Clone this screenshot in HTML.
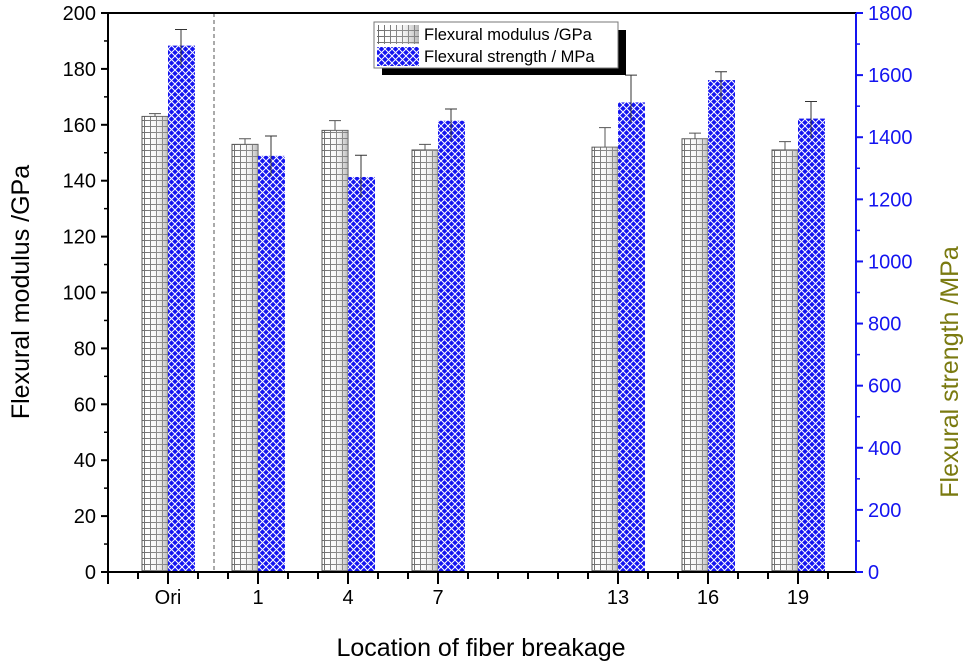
<!DOCTYPE html>
<html><head><meta charset="utf-8"><style>
html,body{margin:0;padding:0;background:#fff}
svg{display:block;font-family:"Liberation Sans",Arial,sans-serif}
</style></head><body>
<svg id="chart" width="975" height="666" viewBox="0 0 975 666">
<defs>
<pattern id="grid" width="6" height="6" patternUnits="userSpaceOnUse">
<rect width="6" height="6" fill="#fff"/>
<path d="M0 0.5H6M0.5 0V6" stroke="#6a6a6a" stroke-width="1"/>
</pattern>
<linearGradient id="shade" x1="0" x2="1" y1="0" y2="0">
<stop offset="0" stop-color="#fff" stop-opacity="0"/>
<stop offset="0.6" stop-color="#ddd" stop-opacity="0.3"/>
<stop offset="1" stop-color="#888" stop-opacity="0.6"/>
</linearGradient>
<pattern id="cross" width="7" height="7" patternUnits="userSpaceOnUse">
<rect width="7" height="7" fill="#1414f0"/>
<path d="M0 0L7 7M7 0L0 7" stroke="#fff" stroke-width="1"/>
</pattern>
</defs>
<g id="plot"></g>
</svg>
<script>
const categories = ["Ori","1","4","7","13","16","19"];
const slots = [2,5,8,11,17,20,23];
const modulus = [163,153,158,151,152,155,151];
const modulusErr = [1,2,3.5,2,7,2,3];
const strength = [1695,1340,1272,1453,1512,1584,1460];
const strengthErr = [52,64,70,38,88,27,55];
const leftTicks = [0,20,40,60,80,100,120,140,160,180,200];
const rightTicks = [0,200,400,600,800,1000,1200,1400,1600,1800];

const L=108,R=856,T=13,B=572;
const xs = k => L + 30*k;
const yL = v => B - (B-T)*v/200;
const yR = v => B - (B-T)*v/1800;
const NS="http://www.w3.org/2000/svg";
const g=document.getElementById('plot');
function mk(tag,attrs,parent){const e=document.createElementNS(NS,tag);for(const k in attrs)e.setAttribute(k,attrs[k]);(parent||g).appendChild(e);return e;}

let e=mk('line',{x1:214,x2:214,y1:T,y2:B,stroke:'#555','stroke-width':1,'stroke-dasharray':'4,3'});



const bw=26;
slots.forEach((s,i)=>{
  const cx=xs(s);
  let y=yL(modulus[i]);
  let r=mk('rect',{x:cx-bw,y:y,width:bw,height:B-y,fill:'url(#grid)',stroke:'#555','stroke-width':1});
  
  
  mk('rect',{x:cx-bw,y:y,width:bw,height:B-y,fill:'url(#shade)'});
  let eb=mk('path',{d:`M${cx-bw/2} ${y}V${yL(modulus[i]+modulusErr[i])}M${cx-bw/2-6} ${yL(modulus[i]+modulusErr[i])}H${cx-bw/2+6}`,stroke:'#555','stroke-width':1,fill:'none'});
  
  
  let y2=yR(strength[i]);
  let r2=mk('rect',{x:cx,y:y2,width:bw+1,height:B-y2,fill:'url(#cross)'});
  
  
  let ey=yR(strength[i]+strengthErr[i]);
  let eb2=mk('path',{d:`M${cx+bw/2} ${y2+20}V${ey}M${cx+bw/2-6} ${ey}H${cx+bw/2+6}`,stroke:'#333','stroke-width':1,fill:'none'});
  
  
});

e=mk('line',{x1:L,x2:R,y1:T,y2:T,stroke:'#000','stroke-width':2});

e=mk('line',{x1:L,x2:L,y1:T,y2:B+12,stroke:'#000','stroke-width':2});

e=mk('line',{x1:L-1,x2:R+1,y1:B,y2:B,stroke:'#000','stroke-width':2});

e=mk('line',{x1:R,x2:R,y1:T,y2:B,stroke:'#1414f0','stroke-width':2});


leftTicks.forEach(v=>{
  const y=yL(v);
  mk('line',{x1:L-7,x2:L,y1:y,y2:y,stroke:'#000','stroke-width':2});
  if(v<200) mk('line',{x1:L-4,x2:L,y1:yL(v+10),y2:yL(v+10),stroke:'#000','stroke-width':1.5});
  const t=mk('text',{x:L-12,y:y+7,'text-anchor':'end','font-size':20});
  t.textContent=v;
  
  
});
rightTicks.forEach(v=>{
  const y=yR(v);
  mk('line',{x1:R,x2:R+7,y1:y,y2:y,stroke:'#1414f0','stroke-width':2});
  if(v<1800) mk('line',{x1:R,x2:R+4,y1:yR(v+100),y2:yR(v+100),stroke:'#1414f0','stroke-width':1.5});
  const t=mk('text',{x:R+12,y:y+7,'text-anchor':'start','font-size':20,fill:'#1414f0'});
  t.textContent=v;
  
  
});
for(let k=1;k<=24;k++){
  const major=slots.includes(k);
  mk('line',{x1:xs(k),x2:xs(k),y1:B,y2:B+(major?12:7),stroke:'#000','stroke-width':2});
}
slots.forEach((s,i)=>{
  const t=mk('text',{x:xs(s),y:604,'text-anchor':'middle','font-size':20});
  t.textContent=categories[i];
  
  
});

let t=mk('text',{x:481,y:656,'text-anchor':'middle','font-size':25});
t.textContent='Location of fiber breakage';

t=mk('text',{x:0,y:0,'text-anchor':'middle','font-size':25,transform:'translate(29,292) rotate(-90)'});
t.textContent='Flexural modulus /GPa';

t=mk('text',{x:0,y:0,'text-anchor':'middle','font-size':25,fill:'#7a7a10',transform:'translate(958,372) rotate(-90)'});
t.textContent='Flexural strength /MPa';


const lg=mk('g',{});


mk('rect',{x:382,y:30,width:244,height:45,fill:'#000'},lg);
mk('rect',{x:374,y:22,width:244,height:46,fill:'#fff',stroke:'#777','stroke-width':1},lg);
let s1=mk('rect',{x:377,y:25,width:42,height:19,fill:'url(#grid)'},lg);
mk('rect',{x:377,y:25,width:42,height:19,fill:'url(#shade)'},lg);

let s2=mk('rect',{x:377,y:47,width:42,height:19,fill:'url(#cross)'},lg);

t=mk('text',{x:424,y:40,'font-size':16.5},lg);t.textContent='Flexural modulus /GPa';

t=mk('text',{x:424,y:62,'font-size':16.5},lg);t.textContent='Flexural strength / MPa';

</script>
</body></html>
